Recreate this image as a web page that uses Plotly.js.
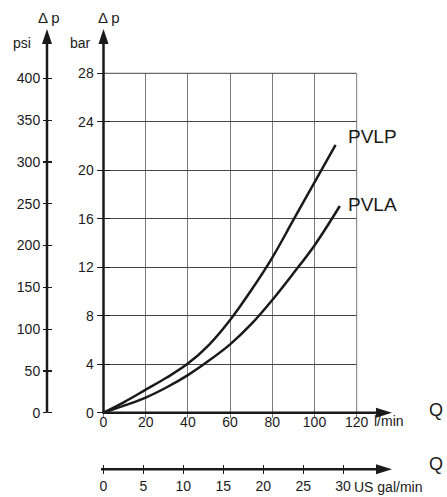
<!DOCTYPE html>
<html>
<head>
<meta charset="utf-8">
<script src="https://cdn.plot.ly/plotly-3.0.1.min.js"></script>
<style>html,body{margin:0;padding:0;background:#fff;}#chart{width:447px;height:497px;}</style>
</head>
<body>
<div id="chart"></div>
<script>
// ---- data ----
const flowLpm = [0, 10, 20, 30, 40, 50, 60, 70, 80, 90, 100, 110];
const pvlpBar = [0, 0.9, 1.9, 2.9, 4.05, 5.6, 7.65, 10.1, 12.8, 15.9, 19.0, 22.1];
const flowLpmA = [0, 10, 20, 30, 40, 50, 60, 70, 80, 90, 100, 112];
const pvlaBar = [0, 0.6, 1.25, 2.1, 3.1, 4.3, 5.64, 7.3, 9.3, 11.5, 13.8, 17.05];
const barTicks = [0, 4, 8, 12, 16, 20, 24, 28];
const psiTicks = [0, 50, 100, 150, 200, 250, 300, 350, 400];
const lpmTicks = [0, 20, 40, 60, 80, 100, 120];
const galTicks = [0, 5, 10, 15, 20, 25, 30];
const seriesNames = ["PVLP", "PVLA"];
const BAR_TO_PSI = 14.5038;
const GAL_TO_L = 3.78541;

// ---- layout helpers (pixel -> paper) ----
const W = 447, H = 497;
const X = px => px / W;
const Y = py => 1 - py / H;
const FONT = "Liberation Sans, Arial, sans-serif";

const x0 = 103.5, x1 = 356.7, yb = 412.7, yt = 73.3;
const yMax = 28, xMax = 120;

const traces = [
  {x: flowLpm, y: pvlpBar, name: seriesNames[0], mode: "lines", line: {color: "#1a1a1a", width: 2.5, shape: "spline", smoothing: 1}, xaxis: "x", yaxis: "y"},
  {x: flowLpmA, y: pvlaBar, name: seriesNames[1], mode: "lines", line: {color: "#1a1a1a", width: 2.5, shape: "spline", smoothing: 1}, xaxis: "x", yaxis: "y"},
  {x: [], y: [], xaxis: "x", yaxis: "y2", mode: "lines"},
  {x: [], y: [], xaxis: "x", yaxis: "y3", mode: "lines"},
  {x: [], y: [], xaxis: "x", yaxis: "y4", mode: "lines"},
  {x: [], y: [], xaxis: "x2", yaxis: "y", mode: "lines"},
  {x: [], y: [], xaxis: "x3", yaxis: "y", mode: "lines"},
  {x: [], y: [], xaxis: "x4", yaxis: "y", mode: "lines"}
];

const tickFont = {family: FONT, size: 14, color: "#1a1a1a"};
const psiRange = [0, yMax * BAR_TO_PSI];
const galRange = [0, xMax / GAL_TO_L];

function arrowUp(px, tipY) {
  return {type: "path", xref: "paper", yref: "paper",
    path: `M ${X(px)} ${Y(tipY)} L ${X(px - 5)} ${Y(tipY + 15)} L ${X(px + 5)} ${Y(tipY + 15)} Z`,
    fillcolor: "#1a1a1a", line: {width: 0}};
}
function arrowRight(tipX, py) {
  return {type: "path", xref: "paper", yref: "paper",
    path: `M ${X(tipX)} ${Y(py)} L ${X(tipX - 16)} ${Y(py - 5)} L ${X(tipX - 16)} ${Y(py + 5)} Z`,
    fillcolor: "#1a1a1a", line: {width: 0}};
}
function hline(xa, xb, py, color, w) {
  return {type: "line", xref: "paper", yref: "paper", x0: X(xa), x1: X(xb), y0: Y(py), y1: Y(py), line: {color: color || "#1a1a1a", width: w || 2.5}};
}
function vline(px, ya, ybb, color, w) {
  return {type: "line", xref: "paper", yref: "paper", x0: X(px), x1: X(px), y0: Y(ya), y1: Y(ybb), line: {color: color || "#1a1a1a", width: w || 2.5}};
}

const shapes = [
  hline(x0, x1, yt, "#444", 1),
  vline(x1, yb, yt, "#7a7a7a", 1),
  vline(47, yb, 44), arrowUp(47, 29),
  vline(x0, yb, 44), arrowUp(x0, 29),
  hline(x0 - 1, 378, yb), arrowRight(392, yb),
  hline(101, 378, 469.3), arrowRight(392, 469.3)
];

function ann(text, px, py, xanchor, size) {
  return {text: text, x: X(px), y: Y(py), xref: "paper", yref: "paper", xanchor: xanchor, yanchor: "middle",
    showarrow: false, font: {family: FONT, size: size, color: "#1a1a1a"}};
}
const annotations = [
  ann("Δ p", 49, 17, "center", 15),
  ann("Δ p", 108.5, 17, "center", 15),
  ann("psi", 22, 43, "center", 14),
  ann("bar", 80, 43, "center", 14),
  ann(seriesNames[0], 346, 136, "left", 19),
  ann(seriesNames[1], 346, 204, "left", 19),
  ann("Q", 436, 410, "center", 18),
  ann("Q", 436, 464, "center", 18),
  ann("l/min", 372, 421, "left", 14),
  ann("US gal/min", 352, 487, "left", 14)
];

const layout = {
  width: W, height: H,
  margin: {l: 0, r: 0, t: 0, b: 0, autoexpand: false},
  paper_bgcolor: "#fff", plot_bgcolor: "rgba(0,0,0,0)",
  showlegend: false,
  xaxis: {domain: [X(x0), X(x1)], range: [0, xMax], tickvals: lpmTicks, showgrid: true, gridcolor: "#7a7a7a", gridwidth: 1,
    ticks: "outside", ticklen: 4, tickcolor: "#7a7a7a", showline: false, zeroline: false, showticklabels: false, anchor: "y",
    fixedrange: true},
  xaxis4: {overlaying: "x", anchor: "free", position: Y(412), side: "bottom", range: [0, xMax], tickvals: lpmTicks, showgrid: false,
    ticks: "", showline: false, zeroline: false, tickfont: tickFont},
  yaxis: {domain: [Y(yb), Y(yt)], range: [0, yMax], tickvals: barTicks, showgrid: true, gridcolor: "#444", gridwidth: 1,
    ticks: "outside", ticklen: 6, tickcolor: "#1a1a1a", tickwidth: 1.2, showline: false, zeroline: false, tickfont: tickFont, anchor: "x", fixedrange: true},
  yaxis3: {overlaying: "y", anchor: "x", range: [0, yMax], tickvals: barTicks, showgrid: false, ticks: "inside", ticklen: 6,
    tickcolor: "#1a1a1a", tickwidth: 1.2, showticklabels: false, showline: false, zeroline: false},
  yaxis2: {overlaying: "y", anchor: "free", position: X(47), side: "left", range: psiRange, tickvals: psiTicks, showgrid: false,
    ticks: "outside", ticklen: 4, tickcolor: "#1a1a1a", tickwidth: 1.2, showline: false, zeroline: false, tickfont: tickFont},
  yaxis4: {overlaying: "y", anchor: "free", position: X(47), side: "right", range: psiRange, tickvals: psiTicks, showgrid: false,
    ticks: "outside", ticklen: 4, tickcolor: "#1a1a1a", tickwidth: 1.2, showticklabels: false, showline: false, zeroline: false},
  xaxis2: {overlaying: "x", anchor: "free", position: Y(469.3), side: "bottom", range: galRange, tickvals: galTicks, showgrid: false,
    ticks: "outside", ticklen: 4, tickcolor: "#1a1a1a", tickwidth: 1.2, showline: false, zeroline: false, tickfont: tickFont},
  xaxis3: {overlaying: "x", anchor: "free", position: Y(469.3), side: "top", range: galRange, tickvals: galTicks, showgrid: false,
    ticks: "outside", ticklen: 4, tickcolor: "#1a1a1a", tickwidth: 1.2, showticklabels: false, showline: false, zeroline: false},
  shapes: shapes,
  annotations: annotations
};

Plotly.newPlot("chart", traces, layout, {staticPlot: true, displayModeBar: false});
</script>
</body>
</html>
